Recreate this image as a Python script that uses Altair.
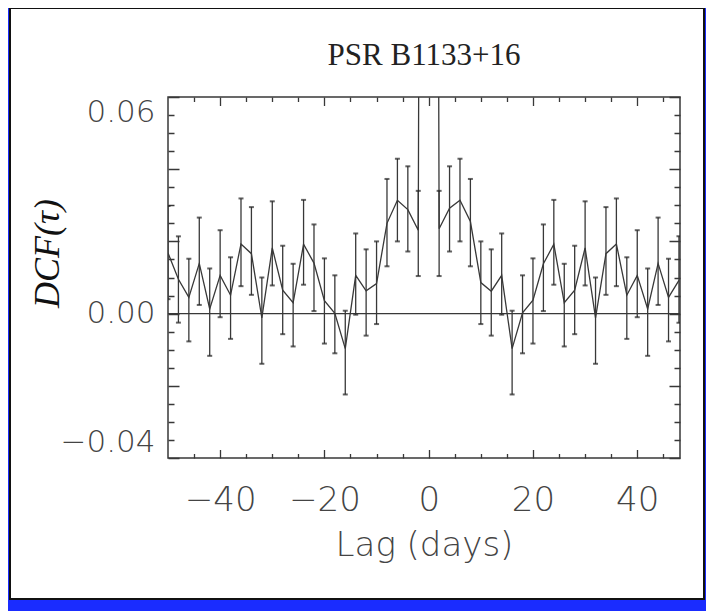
import altair as alt
import pandas as pd

# ---- data ----
lags = [-50, -48, -46, -44, -42, -40, -38, -36, -34, -32, -30, -28, -26, -24, -22,
        -20, -18, -16, -14, -12, -10, -8, -6, -4, -2, 0, 2, 4, 6, 8, 10, 12, 14, 16,
        18, 20, 22, 24, 26, 28, 30, 32, 34, 36, 38, 40, 42, 44, 46, 48]
dcf = [0.0168, 0.0095, 0.0045, 0.0139, 0.0013, 0.0106, 0.0051, 0.0193, 0.0166, -0.0012,
       0.0182, 0.0065, 0.0030, 0.0192, 0.0140, 0.0036, 0.0001, -0.0097, 0.0106, 0.0063,
       0.0083, 0.0250, 0.0314, 0.0288, 0.0231,
       1.0,
       0.0235, 0.0292, 0.0314, 0.0255, 0.0086, 0.0062, 0.0106, -0.0097, 0.0002, 0.0037,
       0.0138, 0.0192, 0.0030, 0.0065, 0.0182, -0.0012, 0.0166, 0.0193, 0.0051, 0.0106,
       0.0013, 0.0139, 0.0045, 0.0092]
err_hi = [0.0298, 0.0214, 0.0152, 0.0266, 0.0125, 0.0231, 0.0156, 0.0319, 0.0295, 0.0100,
          0.0311, 0.0188, 0.0138, 0.0315, 0.0247, 0.0153, 0.0106, 0.0008, 0.0222, 0.0178,
          0.0200, 0.0373, 0.0429, 0.0408, 0.0340,
          1.03,
          0.0340, 0.0408, 0.0429, 0.0373, 0.0200, 0.0178, 0.0222, 0.0008, 0.0106, 0.0153,
          0.0247, 0.0315, 0.0138, 0.0188, 0.0311, 0.0100, 0.0295, 0.0319, 0.0156, 0.0231,
          0.0125, 0.0266, 0.0152, 0.0214]
err_lo = [0.0040, -0.0025, -0.0077, 0.0024, -0.0117, -0.0010, -0.0070, 0.0076, 0.0052, -0.0139,
          0.0078, -0.0057, -0.0091, 0.0080, 0.0007, -0.0083, -0.0110, -0.0224, -0.0003, -0.0061,
          -0.0029, 0.0131, 0.0200, 0.0172, 0.0104,
          0.97,
          0.0104, 0.0172, 0.0200, 0.0131, -0.0029, -0.0061, -0.0003, -0.0224, -0.0110, -0.0083,
          0.0007, 0.0080, -0.0091, -0.0057, 0.0078, -0.0139, 0.0052, 0.0076, -0.0070, -0.0010,
          -0.0117, 0.0024, -0.0077, -0.0025]

x_domain = [-50, 48.2]
y_domain = [-0.04, 0.06]
x_ticks = [-45, -40, -35, -30, -25, -20, -15, -10, -5, 0, 5, 10, 15, 20, 25, 30, 35, 40, 45]
y_ticks = [-0.04, -0.035, -0.03, -0.025, -0.02, -0.015, -0.01, -0.005, 0.0, 0.005, 0.01,
           0.015, 0.02, 0.025, 0.03, 0.035, 0.04, 0.045, 0.05, 0.055, 0.06]
zero_line = [0.0]

title_text = "PSR B1133+16"
x_title = "Lag (days)"
y_title = "DCF(τ)"

df = pd.DataFrame({"lag": lags, "dcf": dcf, "hi": err_hi, "lo": err_lo})
zero_df = pd.DataFrame({"y": zero_line})
deco_df = pd.DataFrame({"a": [0]})

W, H = 512, 361
INK = "#383838"
LABEL_INK = "#444444"
BLUE = "#1a2cff"
LABEL_FONT = "DejaVu Sans"

x_scale = alt.Scale(domain=x_domain, zero=False, nice=False)
y_scale = alt.Scale(domain=y_domain, zero=False, nice=False)

x_axis = alt.Axis(
    values=x_ticks, title=x_title, domain=False, ticks=False, tickSize=0,
    labelExpr="datum.value % 20 === 0 ? datum.label : ''",
    labelOverlap=False, labelFont=LABEL_FONT, labelFontSize=34, labelColor=LABEL_INK,
    labelFontWeight=200,
    labelBaseline="alphabetic", labelPadding=52,
    titleFont=LABEL_FONT, titleFontSize=34, titleFontWeight=200, titleColor=LABEL_INK,
    titleBaseline="alphabetic", titleY=97,
    grid=True, gridColor=INK, gridWidth=1.3, gridOpacity=1,
    gridDash={"condition": {"test": "datum.value % 20 === 0", "value": [8.5, 344, 8.5, 3000]},
              "value": [4.5, 352, 4.5, 3000]},
)
y_axis = alt.Axis(
    values=y_ticks, title=y_title, domain=False, ticks=False, tickSize=0, format=".2f",
    labelExpr="(abs(datum.value - 0.06) < 1e-6 || abs(datum.value) < 1e-6 || abs(datum.value + 0.04) < 1e-6) ? datum.label : ''",
    labelOverlap=False, labelFlush=True, labelFont=LABEL_FONT, labelFontSize=31,
    labelFontWeight=200, labelColor=LABEL_INK, labelPadding=13,
    titleFont="Liberation Serif", titleFontStyle="italic", titleFontSize=36,
    titleFontWeight="normal", titleColor="#111111",
    titleX=-121, titleY=156, titleBaseline="middle", titleAlign="center", titleAngle=270,
    grid=True, gridColor=INK, gridWidth=1.3, gridOpacity=1,
    gridDash={"condition": {"test": "abs(datum.value * 50 - round(datum.value * 50)) < 1e-6",
                            "value": [11, 490, 11, 3000]},
              "value": [6, 500, 6, 3000]},
)

# decorative slide frame (blue band + dark border line), outside the plot area
blue_frame = alt.Chart(deco_df).mark_rect(fillOpacity=0, stroke=BLUE, strokeWidth=12).encode(
    x=alt.value(-165), x2=alt.value(542), y=alt.value(-94), y2=alt.value(509)
)
panel_line = alt.Chart(deco_df).mark_rect(fillOpacity=0, stroke="#111111", strokeWidth=2).encode(
    x=alt.value(-158), x2=alt.value(536), y=alt.value(-89), y2=alt.value(502)
)

zero = alt.Chart(zero_df).mark_rule(color=INK, strokeWidth=1.3, clip=True).encode(
    y=alt.Y("y:Q", scale=y_scale, axis=y_axis)
)

line = alt.Chart(df).mark_line(color=INK, strokeWidth=1.3, clip=True).encode(
    x=alt.X("lag:Q", scale=x_scale, axis=x_axis),
    y=alt.Y("dcf:Q", scale=y_scale, axis=y_axis),
)

bars = alt.Chart(df).mark_rule(color=INK, strokeWidth=1.3, clip=True).encode(
    x=alt.X("lag:Q", scale=x_scale, axis=x_axis),
    y=alt.Y("lo:Q", scale=y_scale, axis=y_axis),
    y2="hi:Q",
)

caps_hi = alt.Chart(df).mark_tick(color="#222222", orient="horizontal", size=5,
                                  thickness=2, clip=True).encode(
    x=alt.X("lag:Q", scale=x_scale, axis=x_axis),
    y=alt.Y("hi:Q", scale=y_scale, axis=y_axis),
)
caps_lo = alt.Chart(df).mark_tick(color="#222222", orient="horizontal", size=5,
                                  thickness=2, clip=True).encode(
    x=alt.X("lag:Q", scale=x_scale, axis=x_axis),
    y=alt.Y("lo:Q", scale=y_scale, axis=y_axis),
)

chart = alt.layer(blue_frame, panel_line, zero, line, bars, caps_hi, caps_lo).properties(
    width=W, height=H,
    background="white",
    autosize=alt.AutoSizeParams(type="none"),
    padding={"left": 160, "top": 89, "right": 26, "bottom": 153},
    title=alt.TitleParams(title_text, font="Liberation Serif", fontSize=31,
                          fontWeight="normal", color="#222222", anchor="middle",
                          frame="group", baseline="alphabetic", offset=-99),
).configure_view(stroke=INK, strokeWidth=1.5)

chart.save("out.html", embed_options={"renderer": "svg", "actions": False})
